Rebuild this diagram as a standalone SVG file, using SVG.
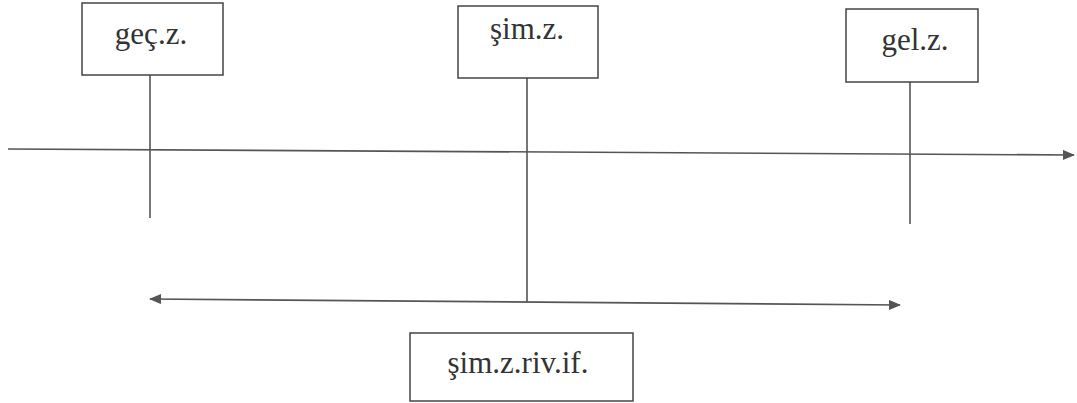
<svg xmlns="http://www.w3.org/2000/svg" width="1077" height="403" viewBox="0 0 1077 403">
<style>
.box{fill:#fff;stroke:#444;stroke-width:1.5}
.lbl{fill:#333;text-anchor:middle}
.ln{stroke:#555;stroke-width:1.6;fill:none}
</style>
<defs>
<marker id="ah" viewBox="0 0 12 10" refX="11" refY="5" markerWidth="12" markerHeight="10" markerUnits="userSpaceOnUse" orient="auto-start-reverse">
<path d="M0,0 L12,5 L0,10 Z" fill="#555"/>
</marker>
</defs>
<rect width="1077" height="403" fill="#fff"/>
<g id="connectors">
<line class="ln" x1="8" y1="149" x2="1074" y2="155" marker-end="url(#ah)"/>
<line class="ln" x1="150" y1="75" x2="150" y2="218"/>
<line class="ln" x1="527" y1="78" x2="527" y2="302"/>
<line class="ln" x1="910" y1="82" x2="910" y2="224"/>
<line class="ln" x1="150" y1="299" x2="900" y2="305" marker-start="url(#ah)" marker-end="url(#ah)"/>
</g>
<g font-family="Liberation Serif, DejaVu Serif, serif" font-size="31">
<g id="gecz">
<rect class="box" x="82" y="3" width="141" height="72"/>
<text class="lbl" x="151" y="44">geç.z.</text>
</g>
<g id="simz">
<rect class="box" x="458" y="6" width="140" height="72"/>
<text class="lbl" x="527" y="39">şim.z.</text>
</g>
<g id="gelz">
<rect class="box" x="846" y="9" width="132" height="73"/>
<text class="lbl" x="915" y="50">gel.z.</text>
</g>
<g id="simzrivif">
<rect class="box" x="410" y="333" width="223" height="68"/>
<text class="lbl" x="518" y="373">şim.z.riv.if.</text>
</g>
</g>
</svg>
